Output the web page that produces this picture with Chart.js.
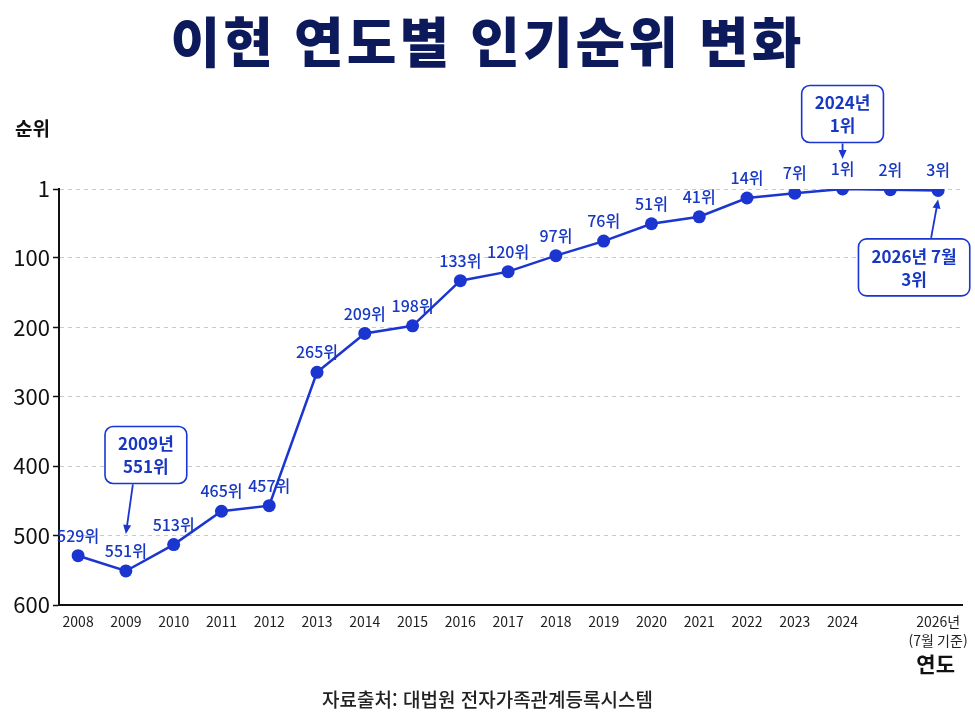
<!DOCTYPE html>
<html lang="ko">
<head>
<meta charset="utf-8">
<title>이현 연도별 인기순위 변화</title>
<script src="https://cdn.jsdelivr.net/npm/chart.js@4.4.1/dist/chart.umd.min.js"></script>
<style>
  html, body { margin: 0; padding: 0; background: #fff; }
  body { width: 975px; height: 726px; position: relative; overflow: hidden;
         font-family: "Noto Sans CJK KR", "Noto Sans", sans-serif; }
  #wrap { position: absolute; left: 0; top: 0; width: 975px; height: 726px; }
  .txt { position: absolute; white-space: nowrap; }
  #title { left: 0; width: 975px; top: 0px; text-align: center; font-size: 54px;
           font-weight: 900; color: #0c1a5c; letter-spacing: 3px; }
  #ylab { left: 15px; top: 114px; font-size: 19px; font-weight: 700; color: #111; }
  #xlab { right: 20px; top: 648px; font-size: 21px; font-weight: 700; color: #111; }
  #src { left: 0; width: 975px; top: 685px; text-align: center; font-size: 19px;
         font-weight: 500; color: #222; }
</style>
</head>
<body>
<div id="wrap"><canvas id="rankChart"></canvas></div>
<div class="txt" id="title">이현 연도별 인기순위 변화</div>
<div class="txt" id="ylab">순위</div>
<div class="txt" id="xlab">연도</div>
<div class="txt" id="src">자료출처: 대법원 전자가족관계등록시스템</div>
<script>
const years = [2008, 2009, 2010, 2011, 2012, 2013, 2014, 2015, 2016, 2017, 2018, 2019, 2020, 2021, 2022, 2023, 2024, 2025, 2026];
const ranks = [529, 551, 513, 465, 457, 265, 209, 198, 133, 120, 97, 76, 51, 41, 14, 7, 1, 2, 3];

const xTickYears = [2008, 2009, 2010, 2011, 2012, 2013, 2014, 2015, 2016, 2017, 2018, 2019, 2020, 2021, 2022, 2023, 2024, 2026];
const xTickLabels = ["2008", "2009", "2010", "2011", "2012", "2013", "2014", "2015", "2016", "2017", "2018", "2019", "2020", "2021", "2022", "2023", "2024", ["2026년", "(7월 기준)"]];
const yTicks = [1, 100, 200, 300, 400, 500, 600];

const callouts = [
  { year: 2009, lines: ["2009년", "551위"] },
  { year: 2024, lines: ["2024년", "1위"] },
  { year: 2026, lines: ["2026년 7월", "3위"] },
];
// where each callout box sits relative to its point
const calloutPlace = {
  2009: { dx: 20, dy: -116, edge: "bottom", startDx: -13, tipDx: 0, tipDy: -37 },
  2024: { dx: 0, dy: -75, edge: "bottom", startDx: 0, tipDx: 0, tipDy: -30 },
  2026: { dx: -24, dy: 77, edge: "top", startDx: 17, tipDx: 0, tipDy: 9 },
};

const BLUE = "#1a35d0";
const LABEL_BLUE = "#1838c4";
const FONT = '"Noto Sans CJK KR", "Noto Sans", sans-serif';

const pointLabels = {
  id: "pointLabels",
  afterDatasetsDraw(chart) {
    const ctx = chart.ctx;
    const meta = chart.getDatasetMeta(0);
    ctx.save();
    ctx.font = "500 16px " + FONT;
    ctx.fillStyle = LABEL_BLUE;
    ctx.textAlign = "center";
    ctx.textBaseline = "middle";
    meta.data.forEach((pt, i) => {
      ctx.fillText(ranks[i] + "위", pt.x, pt.y - 20);
    });
    ctx.restore();
  },
};

const drawArrow = (ctx, x1, y1, x2, y2) => {
  const ang = Math.atan2(y2 - y1, x2 - x1);
  const head = 9;
  ctx.beginPath();
  ctx.moveTo(x1, y1);
  ctx.lineTo(x2 - Math.cos(ang) * head * 0.8, y2 - Math.sin(ang) * head * 0.8);
  ctx.stroke();
  ctx.beginPath();
  ctx.moveTo(x2, y2);
  ctx.lineTo(x2 - head * Math.cos(ang) + 4 * Math.sin(ang), y2 - head * Math.sin(ang) - 4 * Math.cos(ang));
  ctx.lineTo(x2 - head * Math.cos(ang) - 4 * Math.sin(ang), y2 - head * Math.sin(ang) + 4 * Math.cos(ang));
  ctx.closePath();
  ctx.fill();
};

const calloutBoxes = {
  id: "calloutBoxes",
  afterDraw(chart) {
    const ctx = chart.ctx;
    const xs = chart.scales.x;
    const ys = chart.scales.y;
    ctx.save();
    ctx.font = "700 17px " + FONT;
    callouts.forEach((c) => {
      const p = calloutPlace[c.year];
      const px = xs.getPixelForValue(c.year);
      const py = ys.getPixelForValue(ranks[years.indexOf(c.year)]);
      const w = Math.max(...c.lines.map((l) => ctx.measureText(l).width)) + 26;
      const h = 57;
      const cx = px + p.dx;
      const cy = py + p.dy;
      const bx = cx - w / 2;
      const by = cy - h / 2;

      ctx.fillStyle = "#fff";
      ctx.strokeStyle = BLUE;
      ctx.lineWidth = 1.6;
      ctx.beginPath();
      ctx.roundRect(bx, by, w, h, 8);
      ctx.fill();
      ctx.stroke();

      ctx.fillStyle = LABEL_BLUE;
      ctx.textAlign = "center";
      ctx.textBaseline = "middle";
      ctx.fillText(c.lines[0], cx, cy - 11);
      ctx.fillText(c.lines[1], cx, cy + 12);

      const sx = cx + p.startDx;
      const sy = p.edge === "bottom" ? by + h + 1 : by - 1;
      ctx.fillStyle = BLUE;
      ctx.lineWidth = 1.8;
      drawArrow(ctx, sx, sy, px + p.tipDx, py + p.tipDy);
    });
    ctx.restore();
  },
};

const ctx = document.getElementById("rankChart");

const rankChart = new Chart(ctx, {
  type: "line",
  data: {
    datasets: [
      {
        label: "순위",
        data: years.map((y, i) => ({ x: y, y: ranks[i] })),
        borderColor: BLUE,
        backgroundColor: BLUE,
        borderWidth: 2.5,
        pointRadius: 6.5,
        pointHoverRadius: 6.5,
        pointBackgroundColor: BLUE,
        pointBorderWidth: 0,
        tension: 0,
      },
    ],
  },
  options: {
    responsive: true,
    maintainAspectRatio: false,
    animation: false,
    layout: { padding: { top: 189, right: 13, bottom: 0, left: 0 } },
    plugins: {
      legend: { display: false },
      tooltip: { enabled: false },
    },
    scales: {
      x: {
        type: "linear",
        min: 2007.6,
        max: 2026.5,
        afterBuildTicks: (scale) => {
          scale.ticks = xTickYears.map((v) => ({ value: v }));
        },
        afterFit: (scale) => {
          scale.height = 121;
        },
        ticks: {
          autoSkip: false,
          maxRotation: 0,
          padding: 0,
          color: "#222",
          font: { family: FONT, size: 14, lineHeight: 1.3 },
          callback: (value) => {
            const i = xTickYears.indexOf(value);
            return i >= 0 ? xTickLabels[i] : "";
          },
        },
        grid: { display: false },
        border: { display: true, color: "#111", width: 2 },
      },
      y: {
        type: "linear",
        reverse: true,
        min: 1,
        max: 600,
        afterBuildTicks: (scale) => {
          scale.ticks = yTicks.map((v) => ({ value: v }));
        },
        afterFit: (scale) => {
          scale.width = 59;
        },
        ticks: {
          padding: 3,
          color: "#111",
          font: { family: FONT, size: 22 },
        },
        grid: {
          color: (c) => (c.tick && c.tick.value === 600 ? "rgba(0,0,0,0)" : "#c9c9c9"),
          lineWidth: 1,
          tickLength: 6,
          tickColor: "#111",
          tickWidth: 1.5,
        },
        border: { display: true, color: "#111", width: 2, dash: [4, 4] },
      },
    },
  },
  plugins: [pointLabels, calloutBoxes],
});
</script>
</body>
</html>
